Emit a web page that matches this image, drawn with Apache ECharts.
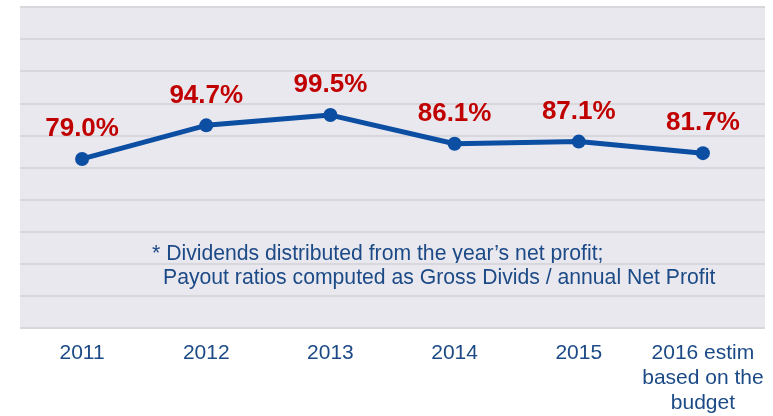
<!DOCTYPE html>
<html>
<head>
<meta charset="utf-8">
<script src="https://cdn.jsdelivr.net/npm/echarts@6/dist/echarts.min.js"></script>
<style>
  html, body { margin: 0; padding: 0; background: #ffffff; }
  #chart { width: 773px; height: 416px; }
</style>
</head>
<body>
<div id="chart"></div>
<script>
// Payout ratio by year
const years = ['2011', '2012', '2013', '2014', '2015', '2016 estim\nbased on the\nbudget'];
const payoutRatio = [79.0, 94.7, 99.5, 86.1, 87.1, 81.7];
const footnoteLines = [
  '* Dividends distributed from the year\u2019s net profit;',
  'Payout ratios computed as Gross Divids / annual Net Profit'
];

const navy = '#1B4A86';
const chart = echarts.init(document.getElementById('chart'), null, { renderer: 'canvas' });

chart.setOption({
  animation: false,
  backgroundColor: '#ffffff',
  grid: {
    left: 20, right: 8, top: 7, bottom: 86,
    show: true, backgroundColor: '#EAE8EF', borderWidth: 0
  },
  xAxis: {
    type: 'category',
    data: years,
    boundaryGap: true,
    axisLine: { show: false },
    axisTick: { show: false },
    axisLabel: {
      color: navy,
      fontFamily: 'Liberation Sans, Arial, sans-serif',
      fontSize: 21,
      lineHeight: 25,
      margin: 13,
      interval: 0
    }
  },
  yAxis: {
    type: 'value',
    min: 0, max: 150, interval: 15,
    axisLabel: { show: false },
    axisLine: { show: false },
    axisTick: { show: false },
    splitLine: { show: true, lineStyle: { color: '#D8D7DC', width: 2 } }
  },
  series: [{
    type: 'line',
    data: payoutRatio,
    symbol: 'circle',
    symbolSize: 14,
    lineStyle: { color: '#0B4EA2', width: 5 },
    itemStyle: { color: '#0B4EA2' },
    label: {
      show: true,
      position: 'top',
      distance: 10,
      color: '#C00000',
      fontWeight: 'bold',
      fontFamily: 'Liberation Sans, Arial, sans-serif',
      fontSize: 26,
      formatter: p => p.value.toFixed(1) + '%'
    }
  }],
  graphic: [
    {
      type: 'text', left: 152, top: 244,
      style: {
        text: footnoteLines[0], fill: navy,
        font: '21.2px "Liberation Sans", Arial, sans-serif'
      }
    },
    {
      type: 'text', left: 163, top: 268,
      style: {
        text: footnoteLines[1], fill: navy,
        font: '21.2px "Liberation Sans", Arial, sans-serif'
      }
    }
  ]
});
</script>
</body>
</html>
